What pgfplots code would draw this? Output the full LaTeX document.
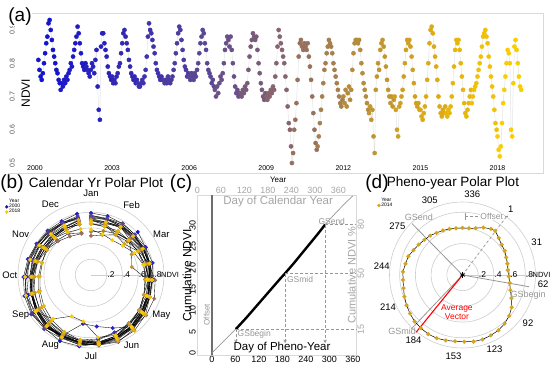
\documentclass[border=0pt]{standalone}
\usepackage{fontspec}
\setmainfont{Liberation Sans}
\usepackage{pgfplots}
\usepackage{pgfplotstable}
\pgfplotsset{compat=1.18}
\usepgfplotslibrary{polar}
\usetikzlibrary{arrows.meta}
\newcommand\fs[1]{\fontsize{#1}{#1}\selectfont}
\definecolor{frame}{RGB}{217,217,217}
\definecolor{tickg}{RGB}{77,77,77}
\definecolor{lg}{RGB}{165,165,165}
\definecolor{gsg}{RGB}{150,150,150}
\definecolor{ringg}{RGB}{205,205,205}
\definecolor{y2000}{RGB}{20,20,205}
\definecolor{y2018}{RGB}{250,205,0}
\definecolor{y2014}{RGB}{210,165,30}
\definecolor{offs}{RGB}{110,110,110}
\tikzset{plab/.style={font=\fs{9.5}}}
\pgfplotsset{
  /pgf/number format/assume math mode=true,
  colormap={yrs}{rgb255=(20,20,205) rgb255=(50,40,180) rgb255=(90,70,150) rgb255=(135,100,110) rgb255=(180,140,60) rgb255=(220,170,20) rgb255=(250,205,0)}
}
\pgfplotstableread{
year doy ndvi
2000 49 0.81
2000 65 0.78
2000 81 0.76
2000 97 0.75
2000 113 0.77
2000 129 0.80
2000 145 0.83
2000 161 0.86
2000 177 0.88
2000 193 0.92
2000 209 0.93
2000 225 0.90
2000 241 0.87
2000 257 0.84
2000 273 0.82
2000 289 0.80
2000 305 0.78
2000 321 0.77
2000 337 0.75
2000 353 0.74
2001 1 0.72
2001 17 0.74
2001 33 0.73
2001 49 0.75
2001 65 0.74
2001 81 0.76
2001 97 0.75
2001 113 0.77
2001 129 0.78
2001 145 0.80
2001 161 0.79
2001 177 0.82
2001 193 0.84
2001 209 0.86
2001 225 0.88
2001 241 0.91
2001 257 0.89
2001 273 0.86
2001 289 0.83
2001 305 0.80
2001 321 0.79
2001 337 0.78
2001 353 0.80
2002 1 0.79
2002 17 0.78
2002 33 0.77
2002 49 0.76
2002 65 0.78
2002 81 0.80
2002 97 0.79
2002 113 0.77
2002 129 0.81
2002 145 0.84
2002 161 0.73
2002 177 0.66
2002 193 0.63
2002 209 0.85
2002 225 0.89
2002 241 0.89
2002 257 0.86
2002 273 0.84
2002 289 0.82
2002 305 0.79
2002 321 0.77
2002 337 0.76
2002 353 0.75
2003 1 0.76
2003 17 0.74
2003 33 0.75
2003 49 0.74
2003 65 0.76
2003 81 0.77
2003 97 0.79
2003 113 0.80
2003 129 0.83
2003 145 0.86
2003 161 0.89
2003 177 0.90
2003 193 0.88
2003 209 0.86
2003 225 0.84
2003 241 0.81
2003 257 0.79
2003 273 0.77
2003 289 0.76
2003 305 0.75
2003 321 0.76
2003 337 0.74
2003 353 0.75
2004 1 0.74
2004 17 0.73
2004 33 0.73
2004 49 0.74
2004 65 0.75
2004 81 0.74
2004 97 0.76
2004 113 0.78
2004 129 0.82
2004 145 0.88
2004 161 0.92
2004 177 0.90
2004 193 0.89
2004 209 0.87
2004 225 0.85
2004 241 0.83
2004 257 0.80
2004 273 0.78
2004 289 0.77
2004 305 0.76
2004 321 0.75
2004 337 0.76
2004 353 0.75
2005 1 0.75
2005 17 0.74
2005 33 0.75
2005 49 0.74
2005 65 0.76
2005 81 0.75
2005 97 0.74
2005 113 0.75
2005 129 0.76
2005 145 0.78
2005 161 0.80
2005 177 0.83
2005 193 0.86
2005 209 0.89
2005 225 0.91
2005 241 0.90
2005 257 0.87
2005 273 0.84
2005 289 0.81
2005 305 0.79
2005 321 0.78
2005 337 0.76
2005 353 0.77
2006 1 0.76
2006 17 0.75
2006 33 0.77
2006 49 0.76
2006 65 0.75
2006 81 0.77
2006 97 0.76
2006 113 0.78
2006 129 0.80
2006 145 0.83
2006 161 0.86
2006 177 0.88
2006 193 0.90
2006 209 0.89
2006 225 0.86
2006 241 0.84
2006 257 0.80
2006 273 0.78
2006 289 0.77
2006 305 0.76
2006 321 0.74
2006 337 0.75
2006 353 0.73
2007 1 0.72
2007 17 0.70
2007 33 0.73
2007 49 0.71
2007 65 0.74
2007 81 0.76
2007 97 0.75
2007 113 0.77
2007 129 0.80
2007 145 0.84
2007 161 0.86
2007 177 0.88
2007 193 0.87
2007 209 0.85
2007 225 0.88
2007 241 0.84
2007 257 0.80
2007 273 0.76
2007 289 0.73
2007 305 0.71
2007 321 0.72
2007 337 0.70
2007 353 0.71
2008 1 0.71
2008 17 0.70
2008 33 0.72
2008 49 0.71
2008 65 0.73
2008 81 0.72
2008 97 0.74
2008 113 0.78
2008 129 0.82
2008 145 0.85
2008 161 0.87
2008 177 0.89
2008 193 0.88
2008 209 0.87
2008 225 0.88
2008 241 0.84
2008 257 0.80
2008 273 0.77
2008 289 0.74
2008 305 0.72
2008 321 0.70
2008 337 0.69
2008 353 0.71
2009 1 0.70
2009 17 0.69
2009 33 0.71
2009 49 0.70
2009 65 0.72
2009 81 0.71
2009 97 0.73
2009 113 0.72
2009 129 0.76
2009 145 0.80
2009 161 0.85
2009 177 0.90
2009 193 0.88
2009 209 0.86
2009 225 0.84
2009 241 0.82
2009 257 0.80
2009 273 0.76
2009 289 0.72
2009 305 0.67
2009 321 0.62
2009 337 0.60
2009 353 0.55
2010 1 0.50
2010 17 0.53
2010 33 0.60
2010 49 0.63
2010 65 0.68
2010 81 0.75
2010 97 0.82
2010 113 0.86
2010 129 0.87
2010 145 0.85
2010 161 0.84
2010 177 0.86
2010 193 0.85
2010 209 0.84
2010 225 0.86
2010 241 0.82
2010 257 0.79
2010 273 0.75
2010 289 0.70
2010 305 0.65
2010 321 0.60
2010 337 0.56
2010 353 0.54
2011 1 0.55
2011 17 0.58
2011 33 0.62
2011 49 0.66
2011 65 0.70
2011 81 0.74
2011 97 0.78
2011 113 0.80
2011 129 0.83
2011 145 0.85
2011 161 0.87
2011 177 0.86
2011 193 0.85
2011 209 0.83
2011 225 0.80
2011 241 0.78
2011 257 0.76
2011 273 0.74
2011 289 0.72
2011 305 0.70
2011 321 0.68
2011 337 0.67
2011 353 0.69
2012 1 0.70
2012 17 0.68
2012 33 0.72
2012 49 0.67
2012 65 0.71
2012 81 0.73
2012 97 0.69
2012 113 0.72
2012 129 0.78
2012 145 0.83
2012 161 0.86
2012 177 0.87
2012 193 0.87
2012 209 0.86
2012 225 0.87
2012 241 0.84
2012 257 0.80
2012 273 0.77
2012 289 0.74
2012 305 0.72
2012 321 0.70
2012 337 0.68
2012 353 0.66
2013 1 0.65
2013 17 0.67
2013 33 0.63
2013 49 0.66
2013 65 0.58
2013 81 0.53
2013 97 0.72
2013 113 0.76
2013 129 0.80
2013 145 0.78
2013 161 0.84
2013 177 0.86
2013 193 0.87
2013 209 0.85
2013 225 0.82
2013 241 0.79
2013 257 0.75
2013 273 0.72
2013 289 0.70
2013 305 0.68
2013 321 0.70
2013 337 0.67
2013 353 0.69
2014 1 0.70
2014 17 0.66
2014 33 0.60
2014 49 0.58
2014 65 0.67
2014 81 0.68
2014 97 0.70
2014 113 0.72
2014 129 0.76
2014 145 0.80
2014 161 0.84
2014 177 0.87
2014 193 0.86
2014 209 0.87
2014 225 0.85
2014 241 0.82
2014 257 0.78
2014 273 0.74
2014 289 0.70
2014 305 0.68
2014 321 0.67
2014 337 0.68
2014 353 0.66
2015 1 0.66
2015 17 0.64
2015 33 0.63
2015 49 0.65
2015 65 0.67
2015 81 0.70
2015 97 0.75
2015 113 0.80
2015 129 0.86
2015 145 0.90
2015 161 0.91
2015 177 0.89
2015 193 0.85
2015 209 0.82
2015 225 0.79
2015 241 0.75
2015 257 0.70
2015 273 0.67
2015 289 0.65
2015 305 0.64
2015 321 0.66
2015 337 0.65
2015 353 0.67
2016 1 0.65
2016 17 0.64
2016 33 0.66
2016 49 0.65
2016 65 0.67
2016 81 0.70
2016 97 0.74
2016 113 0.79
2016 129 0.84
2016 145 0.87
2016 161 0.86
2016 177 0.87
2016 193 0.84
2016 209 0.80
2016 225 0.76
2016 241 0.72
2016 257 0.68
2016 273 0.65
2016 289 0.64
2016 305 0.66
2016 321 0.68
2016 337 0.70
2016 353 0.72
2017 1 0.68
2017 17 0.70
2017 33 0.72
2017 49 0.73
2017 65 0.74
2017 81 0.76
2017 97 0.78
2017 113 0.80
2017 129 0.82
2017 145 0.85
2017 161 0.88
2017 177 0.89
2017 193 0.90
2017 209 0.88
2017 225 0.86
2017 241 0.82
2017 257 0.79
2017 273 0.76
2017 289 0.73
2017 305 0.70
2017 321 0.66
2017 337 0.62
2017 353 0.60
2018 1 0.58
2018 17 0.54
2018 33 0.52
2018 49 0.55
2018 65 0.62
2018 81 0.68
2018 97 0.72
2018 113 0.76
2018 129 0.80
2018 145 0.84
2018 161 0.83
2018 177 0.80
2018 193 0.60
2018 209 0.58
2018 225 0.74
2018 241 0.85
2018 257 0.87
2018 273 0.84
2018 289 0.80
2018 305 0.76
2018 321 0.73
2018 337 0.72
}\ndvi
\pgfplotstableread{
pday ndvi
1 0.70
9 0.66
17 0.63
25 0.62
33 0.60
41 0.59
49 0.58
57 0.59
65 0.61
73 0.64
81 0.69
89 0.75
97 0.79
105 0.82
113 0.84
121 0.85
129 0.86
137 0.86
145 0.85
153 0.85
161 0.86
169 0.87
177 0.87
185 0.86
193 0.85
201 0.83
209 0.81
217 0.79
225 0.77
233 0.76
241 0.76
249 0.74
257 0.73
265 0.70
273 0.68
281 0.66
289 0.65
297 0.63
305 0.62
313 0.61
321 0.60
329 0.60
337 0.60
345 0.62
353 0.66
361 0.69
}\pheno
\pgfplotstableread{
day cum
0 0
8 0.72
16 1.45
24 2.2
32 2.95
40 3.7
48 4.45
56 5.15
64 5.9
72 6.7
80 7.5
88 8.3
96 9.15
104 10.0
112 10.85
120 11.7
128 12.55
136 13.4
144 14.25
152 15.1
160 15.95
168 16.8
176 17.65
184 18.45
192 19.3
200 20.15
208 21.0
216 21.9
224 22.8
232 23.7
240 24.6
248 25.5
256 26.4
264 27.3
272 28.2
280 29.15
288 30.1
296 30.95
304 31.75
312 32.55
320 33.35
328 34.1
336 34.85
344 35.6
352 36.3
360 37.0
}\cumt
\begin{document}
\begin{tikzpicture}
\useasboundingbox (0,0) rectangle (550pt,368pt);
% ---------------- (a)
\begin{axis}[at={(8pt,195pt)}, anchor=south west, scale only axis, width=535pt, height=160pt,
 xmin=1998.95, xmax=2019.77, ymin=0.47, ymax=0.951,
 axis line style={draw=none}, major tick length=0pt,
 xtick={2000,2003,2006,2009,2012,2015,2018},
 xticklabels={2000,2003,2006,2009,2012,2015,2018},
 ytick={0.5,0.6,0.7,0.8,0.9}, yticklabels={0.5,0.6,0.7,0.8,0.9},
 xticklabel style={anchor=south, font=\fs{7}, text=black, inner sep=1pt, yshift=1pt},
 yticklabel style={rotate=90, anchor=north, font=\fs{7}, text=tickg, inner sep=1.5pt},
 colormap name=yrs, point meta min=2000, point meta max=2018,
 clip=false]
\draw[frame, line width=0.8pt] (rel axis cs:0,0) -- (rel axis cs:1,0) -- (rel axis cs:1,1) -- (rel axis cs:0,1);
\addplot[gray!22, line width=0.5pt] table[x expr={\thisrow{year}+(\thisrow{doy}-1)/365}, y=ndvi]{\ndvi};
\addplot[scatter, only marks, mark=*, mark size=2.1pt, point meta=explicit,
  scatter/use mapped color={draw=mapped color, fill=mapped color}]
  table[x expr={\thisrow{year}+(\thisrow{doy}-1)/365}, y=ndvi, meta=year]{\ndvi};
\node[rotate=90, font=\fs{12}] at (axis description cs:0.033,0.5) {NDVI};
\node[font=\fs{8}] at (axis description cs:0.505,-0.045) {Year};
\end{axis}
% ---------------- (b)
\begin{polaraxis}[at={(91pt,93pt)}, anchor=center, scale only axis, width=146pt, height=146pt,
 ymin=0, ymax=0.93, clip=false,
 xtick=\empty,
 ytick={0.2,0.4,0.6,0.8}, yticklabels={.2,.4,.6,.8},
 xmajorgrids=false, ymajorgrids=true,
 major grid style={ringg, line width=0.6pt},
 axis line style={ringg, line width=0.6pt},
 major tick length=0pt,
 yticklabel style={font=\fs{8.5}, anchor=west, inner sep=0.5pt},
 colormap name=yrs, point meta min=2000, point meta max=2018,
 legend style={at={(axis description cs:-0.09,1.025)}, anchor=north west, draw=none, fill=none,
   font=\fs{5}, inner sep=0pt, row sep=-1.5pt, nodes={inner sep=0.8pt}},
 legend cell align=left,
 legend image code/.code={\draw[#1] plot coordinates {(0.06cm,0cm)};}]
\addlegendimage{empty legend}\addlegendentry{Year}
\addlegendimage{only marks, mark=*, mark size=1.5pt, y2000}\addlegendentry{2000}
\addlegendimage{only marks, mark=*, mark size=1.5pt, y2018}\addlegendentry{2018}
\pgfplotsinvokeforeach{2000,...,2018}{
 \addplot[black, line width=0.35pt, restrict expr to domain={\thisrow{year}}{#1:#1}]
   table[x expr={mod(810-(\thisrow{doy}-1)*0.986301,360)}, y=ndvi]{\ndvi};
 \addplot[scatter, only marks, mark=*, mark size=1.8pt, point meta=explicit,
   scatter/use mapped color={draw=mapped color, fill=mapped color},
   restrict expr to domain={\thisrow{year}}{#1:#1}]
   table[x expr={mod(810-(\thisrow{doy}-1)*0.986301,360)}, y=ndvi, meta=year]{\ndvi};
}
\node[anchor=west, font=\fs{7.5}, inner sep=0.5pt] at (axis cs:0,0.885) {NDVI};
\node[plab] at (axis cs:90,1.04) {Jan};
\node[plab] at (axis cs:60,1.035) {Feb};
\node[plab] at (axis cs:30,1.035) {Mar};
\node[plab] at (axis cs:330,1.035) {May};
\node[plab] at (axis cs:300,1.035) {Jun};
\node[plab] at (axis cs:270,1.035) {Jul};
\node[plab] at (axis cs:240,1.035) {Aug};
\node[plab] at (axis cs:210,1.035) {Sep};
\node[plab] at (axis cs:180,1.035) {Oct};
\node[plab] at (axis cs:150,1.035) {Nov};
\node[plab] at (axis cs:120,1.035) {Dec};
\end{polaraxis}
% ---------------- (c)
\begin{axis}[at={(197.5pt,13pt)}, anchor=south west, scale only axis, width=158.5pt, height=160pt,
 xmin=-37, xmax=368, ymin=-0.5, ymax=37.2, clip=false,
 axis line style={frame, line width=0.8pt}, major tick length=0pt,
 xtick={0,60,120,180,240,300,360}, ytick={0,5,10,15,20,25,30},
 xticklabels={0,60,120,180,240,300,360}, yticklabels={0,5,10,15,20,25,30},
 xticklabel style={font=\fs{9}, inner sep=1.5pt},
 yticklabel style={font=\fs{9}, rotate=90, anchor=south, inner sep=1.5pt}]
\draw[offs, line width=1.3pt] (axis cs:0,-0.5) -- (axis cs:0,37.2);
\addplot[gsg, line width=0.7pt] table[x=day, y=cum]{\cumt};
\addplot[black, line width=2.4pt] coordinates {(61,5.6) (64,5.9) (72,6.7) (80,7.5) (88,8.3) (96,9.15) (104,10.0) (112,10.85) (120,11.7) (128,12.55) (136,13.4) (144,14.25) (152,15.1) (160,15.95) (168,16.8) (176,17.65) (184,18.45) (192,19.3) (200,20.15) (208,21.0) (216,21.9) (224,22.8) (232,23.7) (240,24.6) (248,25.5) (256,26.4) (264,27.3) (272,28.2) (280,29.15) (288,30.1) (289,30.2)};
\begin{scope}[gsg, line width=0.7pt, dash pattern=on 3pt off 2pt]
\draw (axis cs:61,5.6) -- (axis cs:368,5.6);
\draw (axis cs:187,18.7) -- (axis cs:368,18.7);
\draw (axis cs:289,30.2) -- (axis cs:368,30.2);
\draw[-{Stealth[length=3.5pt,width=3.5pt]}] (axis cs:61,5.6) -- (axis cs:61,2.3);
\draw[-{Stealth[length=3.5pt,width=3.5pt]}] (axis cs:187,18.7) -- (axis cs:187,2.3);
\draw[-{Stealth[length=3.5pt,width=3.5pt]}] (axis cs:289,30.2) -- (axis cs:289,2.3);
\end{scope}
\node[anchor=west, text=gsg, font=\fs{8.5}, inner sep=0.5pt] at (axis cs:64,4.3) {GSbegin};
\node[anchor=west, text=gsg, font=\fs{8.5}, inner sep=0.5pt] at (axis cs:190,17.3) {GSmid};
\node[text=gsg, font=\fs{8.5}, inner sep=0.5pt] at (axis cs:306,30.9) {GSend};
\node[text=lg, font=\fs{11.5}] at (axis cs:169,35.7) {Day of Calendar Year};
\node[font=\fs{11.5}] at (axis cs:179,1.3) {Day of Pheno-Year};
\node[text=lg, font=\fs{11}, rotate=90] at (axis cs:357,18.3) {Cumulative NDVI \%};
\node[text=gsg, font=\fs{8}, rotate=90] at (axis cs:-13,9.0) {Offset};
\node[font=\fs{12}, rotate=90] at (axis description cs:-0.066,0.5) {Cumulative NDVI};
\end{axis}
\begin{axis}[at={(197.5pt,13pt)}, anchor=south west, scale only axis, width=158.5pt, height=160pt,
 xmin=0, xmax=405, ymin=-0.5, ymax=37.2,
 axis x line*=top, axis y line*=right, axis line style={draw=none}, major tick length=0pt,
 xtick={0,60,120,180,240,300,360}, xticklabels={0,60,120,180,240,300,360},
 ytick={5.6,18.7,30.2}, yticklabels={15,50,80},
 xticklabel style={font=\fs{9}, text=lg, inner sep=1.5pt},
 yticklabel style={font=\fs{9}, text=lg, rotate=90, anchor=north, inner sep=1.5pt}]
\addplot[draw=none] coordinates {(0,0)};
\end{axis}
% ---------------- (d)
\begin{polaraxis}[at={(462.5pt,93pt)}, anchor=center, scale only axis, width=146pt, height=146pt,
 ymin=0, ymax=0.93, clip=false,
 xtick=\empty,
 ytick={0.2,0.4,0.6,0.8}, yticklabels={.2,.4,.6,.8},
 xmajorgrids=false, ymajorgrids=true,
 major grid style={ringg, line width=0.6pt},
 axis line style={ringg, line width=0.6pt},
 major tick length=0pt,
 yticklabel style={font=\fs{8.5}, anchor=west, inner sep=0.5pt},
 legend style={at={(axis description cs:-0.085,1.035)}, anchor=north west, draw=none, fill=none,
   font=\fs{5}, inner sep=0pt, row sep=-1.5pt, nodes={inner sep=0.8pt}},
 legend cell align=left,
 legend image code/.code={\draw[#1] plot coordinates {(0.06cm,0cm)};}]
\addlegendimage{empty legend}\addlegendentry{Year}
\addlegendimage{only marks, mark=*, mark size=1.5pt, y2014}\addlegendentry{2014}
\draw[gsg, line width=0.7pt, dash pattern=on 3pt off 2pt] (axis cs:0,0) -- (axis cs:53,0.96);
\draw[gsg, line width=0.7pt, dash pattern=on 3pt off 2pt] (axis description cs:0.517,0.899) -- (axis description cs:0.814,0.899);
\draw[gsg, line width=0.7pt] (axis description cs:0.517,0.875) -- (axis description cs:0.517,0.923);
\node[fill=white, text=gsg, font=\fs{8.5}, inner sep=0.3pt] at (axis description cs:0.70,0.899) {Offset};
\draw[gsg, line width=0.8pt] (axis cs:0,0) -- (axis cs:350,0.86);
\draw[gsg, line width=0.8pt] (axis cs:0,0) -- (axis cs:134.5,0.92);
\draw[gsg, line width=0.8pt] (axis cs:0,0) -- (axis cs:226.5,0.95);
\addplot[black, line width=0.5pt] table[x expr={mod(810-(\thisrow{pday}+36)*0.986301,360)}, y=ndvi]{\pheno} -- cycle;
\addplot[only marks, mark=*, mark size=1.9pt, y2014] table[x expr={mod(810-(\thisrow{pday}+36)*0.986301,360)}, y=ndvi]{\pheno};
\draw[red, line width=1.1pt] (axis cs:0,0) -- (axis cs:231,0.94);
\addplot[only marks, mark=asterisk, mark size=2.8pt, black, line width=0.8pt] coordinates {(0,0)};
\node[anchor=west, font=\fs{7.5}, inner sep=0.5pt] at (axis cs:0,0.885) {NDVI};
\node[plab] at (axis cs:53.5,1.035) {1};
\node[plab] at (axis cs:23.9,1.035) {31};
\node[plab] at (axis cs:353.3,1.035) {62};
\node[plab] at (axis cs:323.75,1.035) {92};
\node[plab] at (axis cs:293.2,1.035) {123};
\node[plab] at (axis cs:263.6,1.035) {153};
\node[plab] at (axis cs:233.0,1.035) {184};
\node[plab] at (axis cs:203.4,1.035) {214};
\node[plab] at (axis cs:173.8,1.035) {244};
\node[plab] at (axis cs:143.3,1.035) {275};
\node[plab] at (axis cs:113.7,1.035) {305};
\node[plab] at (axis cs:83.1,1.035) {336};
\node[text=gsg, font=\fs{9}] at (axis description cs:0.202,0.897) {GSend};
\node[text=gsg, font=\fs{9}] at (axis description cs:0.949,0.363) {GSbegin};
\node[text=gsg, font=\fs{9}] at (axis description cs:0.086,0.116) {GSmid};
\node[text=red, font=\fs{8.5}, align=center, inner sep=0pt] at (axis description cs:0.462,0.247) {Average\\Vector};
\end{polaraxis}
% ---------------- panel labels and titles
\node[font=\fs{19}, fill=white, inner sep=0.5pt] at (20pt,351pt) {(a)};
\node[font=\fs{19}] at (12pt,184.5pt) {(b)};
\node[font=\fs{13.5}] at (96pt,185pt) {Calendar Yr Polar Plot};
\node[font=\fs{19}] at (181pt,184.5pt) {(c)};
\node[font=\fs{19}] at (377pt,184.5pt) {(d)};
\node[font=\fs{13.5}] at (453pt,185pt) {Pheno-year Polar Plot};
\end{tikzpicture}
\end{document}
